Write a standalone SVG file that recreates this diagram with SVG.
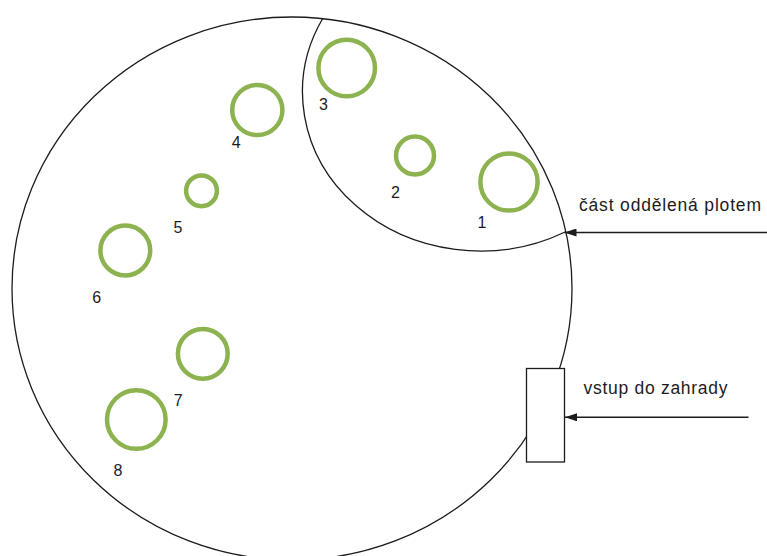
<svg xmlns="http://www.w3.org/2000/svg" width="767" height="556" viewBox="0 0 767 556">
  <defs>
    <style>
      .outline { fill: none; stroke: #1c1c1c; stroke-width: 1.3; }
      .tree { fill: none; stroke: #8db350; stroke-width: 4.5; }
      .gate { fill: #ffffff; stroke: #1c1c1c; stroke-width: 1.3; }
      .conn { fill: none; stroke: #1c1c1c; stroke-width: 1.4; }
      .num { font-family: "Liberation Sans", Arial, sans-serif; font-size: 16px; fill: #1c1c1c; text-anchor: middle; }
      .lbl { font-family: "Liberation Sans", Arial, sans-serif; font-size: 17.5px; fill: #1c1c1c; }
    </style>
    <marker id="arrowhead" viewBox="0 0 12 8" refX="12" refY="4" markerWidth="12" markerHeight="8" markerUnits="userSpaceOnUse" orient="auto">
      <path d="M0,0 L12,4 L0,8 z" fill="#1c1c1c"/>
    </marker>
  </defs>

  <rect x="0" y="0" width="767" height="556" fill="#ffffff"/>

  <!-- garden boundary -->
  <g id="garden">
    <ellipse class="outline" cx="292" cy="288.5" rx="280" ry="271.5"/>
  </g>

  <!-- fenced-off part -->
  <g id="fenced-part">
    <path class="outline" d="M323,18 A178,159 0 0 0 565,232"/>
  </g>

  <!-- trees -->
  <g id="tree-1">
    <circle class="tree" cx="509" cy="182" r="28.6"/>
    <text class="num" x="482" y="227.5">1</text>
  </g>
  <g id="tree-2">
    <circle class="tree" cx="415" cy="155.5" r="19"/>
    <text class="num" x="395.5" y="198.3">2</text>
  </g>
  <g id="tree-3">
    <circle class="tree" cx="346.7" cy="68" r="28.3"/>
    <text class="num" x="323.5" y="109.5">3</text>
  </g>
  <g id="tree-4">
    <circle class="tree" cx="257.3" cy="110" r="25.1"/>
    <text class="num" x="236.2" y="148.3">4</text>
  </g>
  <g id="tree-5">
    <circle class="tree" cx="201.5" cy="190.8" r="15.4"/>
    <text class="num" x="178" y="232.7">5</text>
  </g>
  <g id="tree-6">
    <circle class="tree" cx="125.3" cy="250.5" r="24.9"/>
    <text class="num" x="96.7" y="303.3">6</text>
  </g>
  <g id="tree-7">
    <circle class="tree" cx="202.8" cy="353.8" r="24.9"/>
    <text class="num" x="178.3" y="406">7</text>
  </g>
  <g id="tree-8">
    <circle class="tree" cx="136.3" cy="419.5" r="29.3"/>
    <text class="num" x="118" y="476">8</text>
  </g>

  <!-- garden entrance -->
  <g id="gate">
    <rect class="gate" x="526.5" y="368.5" width="38" height="93.5"/>
  </g>

  <!-- pointer arrows -->
  <g id="connectors">
    <line class="conn" x1="767" y1="232.5" x2="564.5" y2="232.5" marker-end="url(#arrowhead)"/>
    <line class="conn" x1="748.5" y1="417.3" x2="565" y2="417.3" marker-end="url(#arrowhead)"/>
  </g>

  <!-- captions -->
  <g id="caption-fence">
    <text class="lbl" x="579" y="211" textLength="182" lengthAdjust="spacing">část oddělená plotem</text>
  </g>
  <g id="caption-entrance">
    <text class="lbl" x="583.5" y="394" textLength="144" lengthAdjust="spacing">vstup do zahrady</text>
  </g>
</svg>
